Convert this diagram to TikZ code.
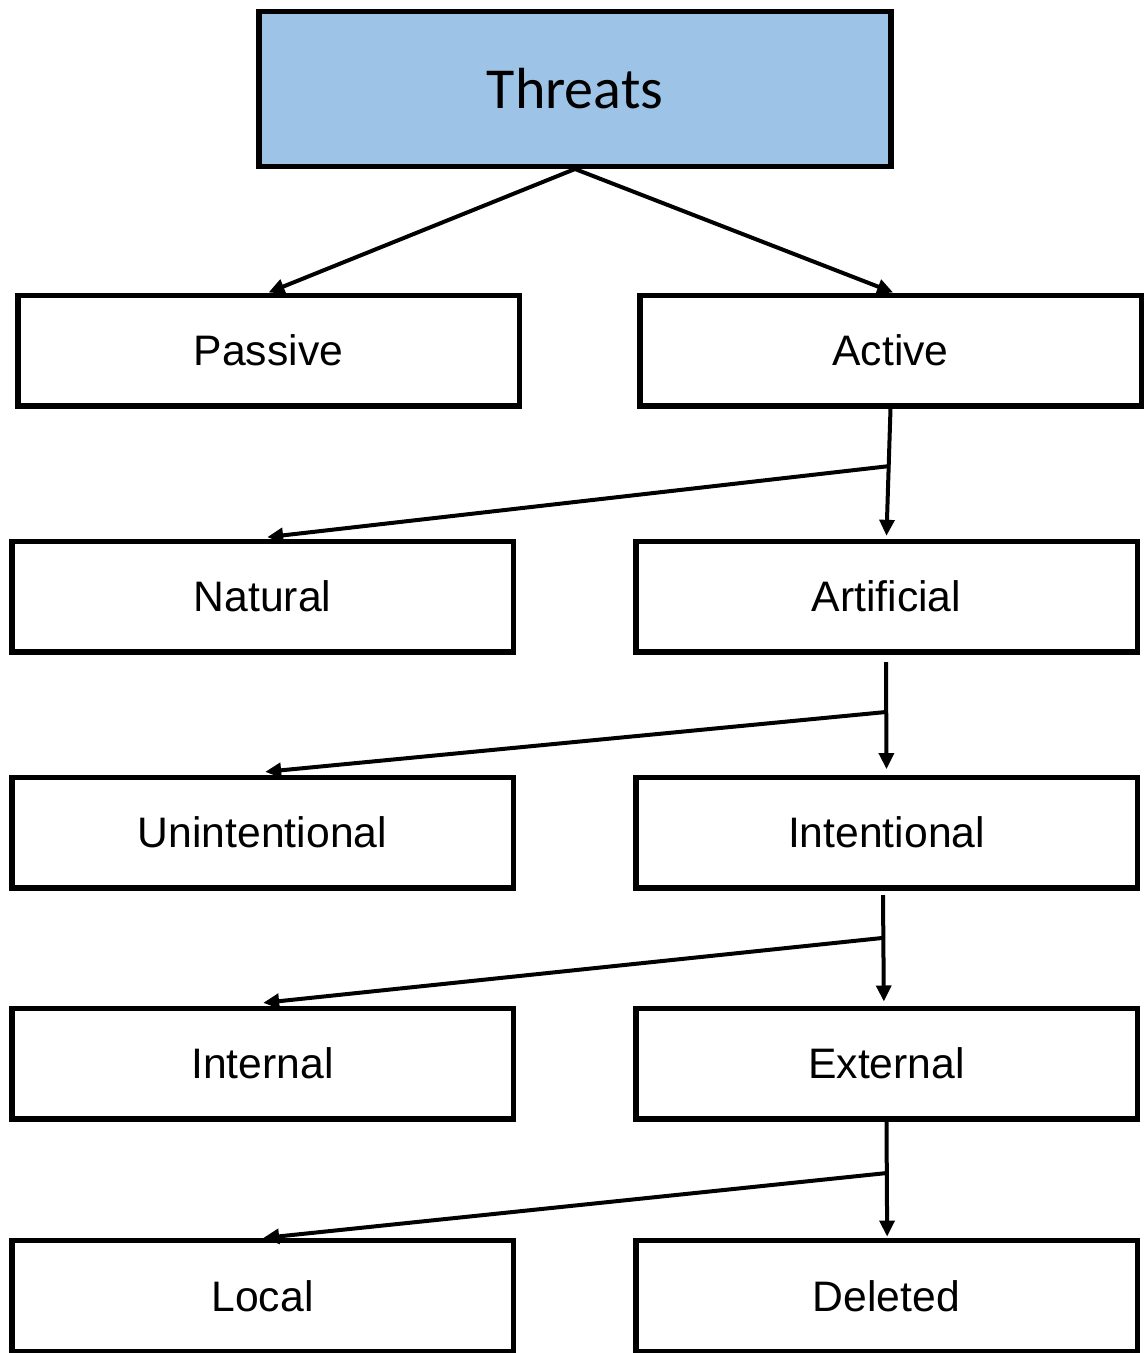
\documentclass[tikz,border=0pt]{standalone}
\usepackage{fontspec}
\setmainfont{Liberation Sans}
\newfontfamily\calfont{Carlito}
\usetikzlibrary{arrows.meta}
\definecolor{topblue}{HTML}{9DC3E6}
\begin{document}
\begin{tikzpicture}[x=0.75pt,y=-0.75pt,
  box/.style={draw=black,line width=4pt,minimum width=376pt,minimum height=83pt,inner sep=0pt,font=\fontsize{32}{37}\selectfont},
  conn/.style={line width=3pt,-{Triangle[length=12pt,width=11pt]}}]
\useasboundingbox (0,0) rectangle (1143,1353);
\node[box,fill=topblue,minimum width=474pt,minimum height=116pt,font=\calfont\fontsize{43.5}{50}\selectfont] (threats) at (575,89) {Threats};
\node[box] (passive) at (268.5,350.5) {Passive};
\node[box] (active) at (890.5,350.5) {Active};
\node[box] (natural) at (262.5,596.5) {Natural};
\node[box] (artificial) at (886.5,596.5) {Artificial};
\node[box] (unint) at (262.5,832.5) {Unintentional};
\node[box] (intent) at (886.5,832.5) {Intentional};
\node[box] (internal) at (262.5,1063.5) {Internal};
\node[box] (external) at (886.5,1063.5) {External};
\node[box] (local) at (262.5,1296) {Local};
\node[box] (deleted) at (886.5,1296) {Deleted};
% branch points
\coordinate (b1) at (890,466);
\coordinate (b2) at (886,712);
\coordinate (b3) at (882,938);
\coordinate (b4) at (887,1173);
\coordinate (s2) at (886,662);
\coordinate (s3) at (883,895);
\draw[conn] (threats.south) -- (passive.north);
\draw[conn] (threats.south) -- ([xshift=2pt]active.north);
\draw[conn] (active.south) -- ([yshift=2pt]artificial.north);
\draw[conn] (b1) -- ([xshift=3.5pt,yshift=1pt]natural.north);
\draw[conn] (s2) -- ([yshift=4pt]intent.north);
\draw[conn] (b2) -- ([xshift=2pt,yshift=2pt]unint.north);
\draw[conn] (s3) -- ([xshift=-2pt,yshift=3pt]external.north);
\draw[conn] (b3) -- ([xshift=0.5pt,yshift=2pt]internal.north);
\draw[conn] (external.south) -- ([xshift=0.5pt,yshift=1pt]deleted.north);
\draw[conn] (b4) -- ([xshift=0.5pt]local.north);
\end{tikzpicture}
\end{document}
